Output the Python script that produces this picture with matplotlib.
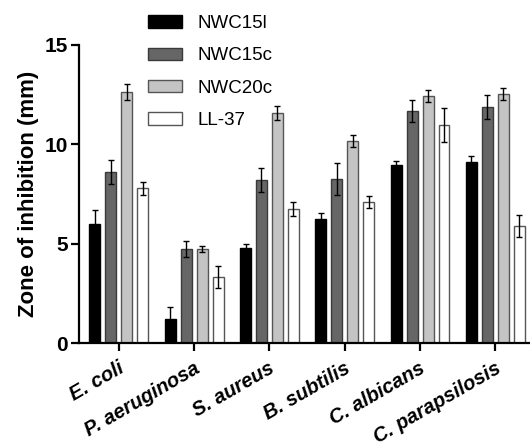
import matplotlib.pyplot as plt
import matplotlib.transforms as mtransforms
import numpy as np

plt.rcParams['font.family'] = ['Liberation Sans', 'DejaVu Sans']

species = ['E. coli', 'P. aeruginosa', 'S. aureus', 'B. subtilis', 'C. albicans', 'C. parapsilosis']
series = ['NWC15l', 'NWC15c', 'NWC20c', 'LL-37']

nwc15l = [6.0, 1.2, 4.78, 6.24, 8.95, 9.1]
nwc15l_err = [0.7, 0.6, 0.2, 0.3, 0.2, 0.3]
nwc15c = [8.6, 4.73, 8.2, 8.25, 11.68, 11.88]
nwc15c_err = [0.6, 0.4, 0.6, 0.8, 0.55, 0.6]
nwc20c = [12.65, 4.73, 11.55, 10.17, 12.43, 12.55]
nwc20c_err = [0.4, 0.17, 0.35, 0.3, 0.3, 0.3]
ll37 = [7.78, 3.32, 6.74, 7.1, 10.97, 5.88]
ll37_err = [0.33, 0.56, 0.35, 0.3, 0.85, 0.55]

values = [nwc15l, nwc15c, nwc20c, ll37]
errors = [nwc15l_err, nwc15c_err, nwc20c_err, ll37_err]
colors = ['#000000', '#666666', '#c4c4c4', '#ffffff']
edges = ['#000000', '#3a3a3a', '#555555', '#555555']

fig = plt.figure(figsize=(5.3, 4.48), dpi=100)
ax = fig.add_axes([0.149, 0.234, 0.851, 0.666])

x = np.arange(len(species))
step = 0.212
width = 0.145
for i in range(4):
    ax.bar(x + (i - 1.5) * step, values[i], width, color=colors[i],
           edgecolor=edges[i], linewidth=1.0, label=series[i],
           yerr=errors[i], capsize=2.5,
           error_kw=dict(ecolor='black', elinewidth=1.0, capthick=1.0))

ax.set_xlim(-0.53, 5.46)
ax.set_ylim(0, 15)
ax.set_yticks([0, 5, 10, 15])
ax.set_yticklabels(['0', '5', '10', '15'], fontsize=15, fontweight='bold')
ax.set_xticks(x)
ax.set_xticklabels(species, fontsize=14.5, style='italic', fontweight='bold',
                   rotation=30, ha='right', rotation_mode='anchor')
ax.set_ylabel('Zone of inhibition (mm)', fontsize=16, fontweight='bold', labelpad=4)

for s in ['top', 'right']:
    ax.spines[s].set_visible(False)
for s in ['left', 'bottom']:
    ax.spines[s].set_linewidth(1.6)
ax.tick_params(axis='both', width=1.6, length=6, direction='out')
ax.tick_params(axis='y', pad=2)
ax.tick_params(axis='x', pad=5)
shift = mtransforms.ScaledTranslation(-1 / 100, 0, fig.dpi_scale_trans)
for lab in ax.get_xticklabels():
    lab.set_transform(lab.get_transform() + shift)

ax.legend(loc='upper left', bbox_to_anchor=(148 / 530, 1 - 15 / 448),
          bbox_transform=fig.transFigure, frameon=False, borderpad=0,
          borderaxespad=0, fontsize=13.5, handlelength=1.8, handleheight=0.65,
          labelspacing=0.82, handletextpad=0.85)

fig.savefig('out.png', dpi=100)
